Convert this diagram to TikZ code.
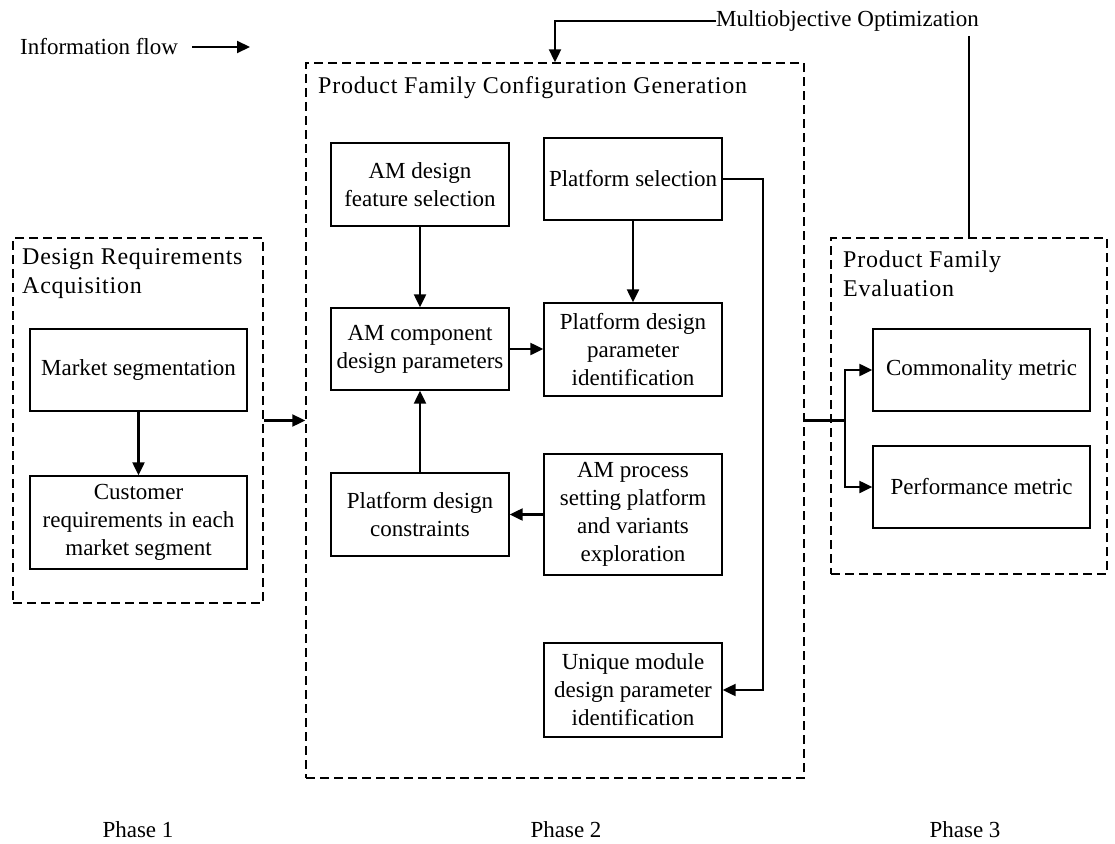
\documentclass[tikz,border=0pt]{standalone}
\usepackage{fontspec}
\setmainfont{Liberation Serif}
\usetikzlibrary{arrows.meta}
\begin{document}
\begin{tikzpicture}[x=1pt,y=-1pt,
  every node/.style={font=\fontsize{23}{28}\selectfont},
  box/.style={draw, line width=1.3pt, align=center, inner sep=0pt},
  group/.style={draw, dash pattern=on 9pt off 5pt, line width=1.4pt, inner sep=0pt},
  caption/.style={anchor=west, inner sep=0pt, align=left},
  grouptitle/.style={caption, font=\fontsize{24}{29}\selectfont\addfontfeature{LetterSpace=3.2}},
  link/.style={line width=2.1pt, -{Triangle[length=13pt,width=12pt]}},
  plain/.style={line width=2.1pt}]
\useasboundingbox (0,0) rectangle (1115,843);

% dashed phase groups
\node[group, minimum width=250pt, minimum height=365pt] (gl) at (138,420.5) {};
\node[group, minimum width=498pt, minimum height=715pt] (gm) at (555,420.5) {};
\node[group, minimum width=276pt, minimum height=336pt] (gr) at (969,406) {};

% group titles
\node[grouptitle] (tl) at (22,274) {Design Requirements\\Acquisition};
\node[grouptitle] (tm) at (318,88) {Product Family Configuration Generation};
\node[grouptitle] (tr) at (843,274) {Product Family\\Evaluation};

% phase 1
\node[box, minimum width=217pt, minimum height=82pt] (mseg) at (138.5,370) {Market segmentation};
\node[box, minimum width=217pt, minimum height=93pt] (creq) at (138.5,522.5) {Customer\\requirements in each\\market segment};

% phase 2
\node[box, minimum width=178pt, minimum height=83pt] (amf) at (420,184.5) {AM design\\feature selection};
\node[box, minimum width=178pt, minimum height=82pt] (psel) at (633,179) {Platform selection};
\node[box, minimum width=178pt, minimum height=82pt] (amc) at (420,349) {AM component\\design parameters};
\node[box, minimum width=178pt, minimum height=93pt] (pdpi) at (633,349.5) {Platform design\\parameter\\identification};
\node[box, minimum width=178pt, minimum height=83pt] (pdc) at (420,514.5) {Platform design\\constraints};
\node[box, minimum width=178pt, minimum height=121pt] (amp) at (633,514.5) {AM process\\setting platform\\and variants\\exploration};
\node[box, minimum width=178pt, minimum height=94pt] (uniq) at (633,690) {Unique module\\design parameter\\identification};

% phase 3
\node[box, minimum width=217pt, minimum height=82pt] (comm) at (981.5,370) {Commonality metric};
\node[box, minimum width=217pt, minimum height=82pt] (perf) at (981.5,487) {Performance metric};

% legend and optimisation loop
\node[caption] (info) at (20,47) {Information flow};
\coordinate (infoend) at (250,47);
\draw[link] ([xshift=14pt]info.east) -- (infoend);

\node[caption] (mo) at (716,21) {Multiobjective Optimization};
\coordinate (modrop) at (969,36);
\draw[link] (mo.west) -| (gm.north);
\draw[plain] (modrop) -- (gr.north);

% flows inside phase 1 and between phases
\draw[link] (mseg) -- (creq);
\draw[link] (gl.east) -- (gm.west);

% flows inside phase 2
\draw[link] (amf) -- (amc);
\draw[link] (psel) -- (pdpi);
\draw[link] (amc.east) -- (amc.east -| pdpi.west);
\draw[link] (pdc) -- (amc);
\draw[link] (amp.west) -- (amp.west -| pdc.east);
\coordinate (rail) at (763,0);
\draw[link] (psel.east) -- (psel.east -| rail) |- (uniq.east);

% phase 2 to phase 3
\coordinate (br) at (845,420.5);
\draw[plain] (gm.east) -- (br);
\draw[link] (br) |- (comm.west);
\draw[link] (br) |- (perf.west);

% phase labels
\node (p1) at (138,830) {Phase 1};
\node (p2) at (566,830) {Phase 2};
\node (p3) at (965,830) {Phase 3};
\end{tikzpicture}
\end{document}
